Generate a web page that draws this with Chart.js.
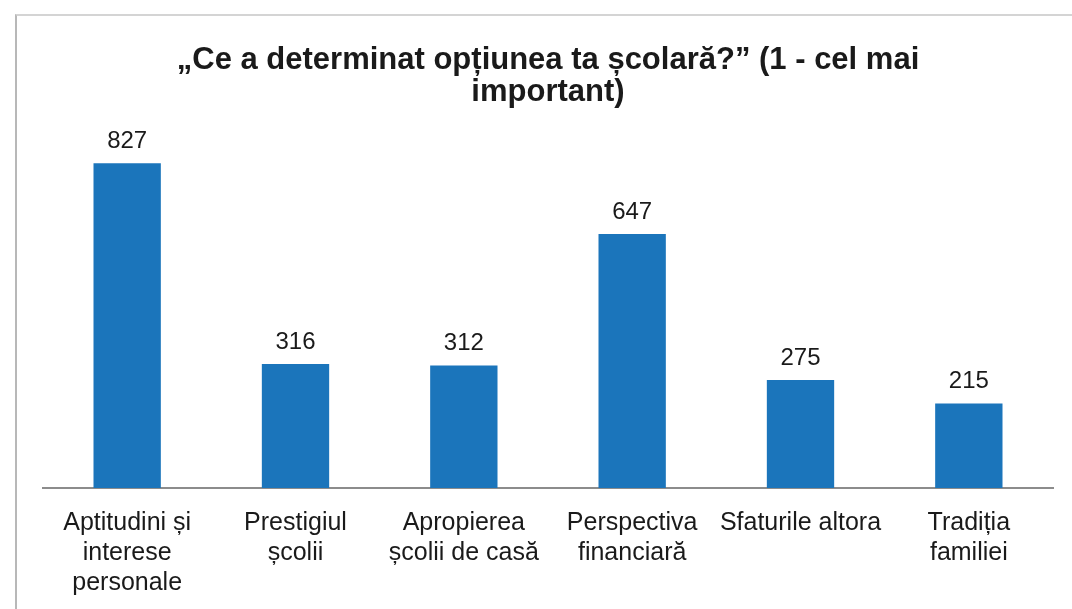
<!DOCTYPE html>
<html>
<head>
<meta charset="utf-8">
<script src="https://cdn.jsdelivr.net/npm/chart.js@4.4.0/dist/chart.umd.min.js"></script>
<style>
    html, body { margin: 0; padding: 0; background: #fff; }
    #wrap { position: relative; width: 1072px; height: 609px; }
    #frame { position: absolute; left: 15px; top: 14px; right: 0; bottom: 0; border-left: 2px solid #b8b8b8; border-top: 2px solid #d4d4d4; }
    canvas { position: absolute; left: 0; top: 0; }
</style>
</head>
<body>
<div id="wrap">
    <div id="frame"></div>
    <canvas id="chart" width="1072" height="609"></canvas>
</div>
<script>
    'use strict';

    const BAR_COLOR = '#1b75bb';

    const categories = [
        ['Aptitudini și', 'interese', 'personale'],
        ['Prestigiul', 'școlii'],
        ['Apropierea', 'școlii de casă'],
        ['Perspectiva', 'financiară'],
        ['Sfaturile altora'],
        ['Tradiția', 'familiei'],
    ];
    const values = [827, 316, 312, 647, 275, 215];
    const titleLines = ['„Ce a determinat opțiunea ta școlară?” (1 - cel mai', 'important)'];

    // value labels above each bar
    const valueLabels = {
        id: 'valueLabels',
        afterDatasetsDraw: function (chart) {
            const ctx = chart.ctx;
            const meta = chart.getDatasetMeta(0);
            ctx.save();
            ctx.font = '24px "Liberation Sans", Arial, sans-serif';
            ctx.fillStyle = '#1a1a1a';
            ctx.textAlign = 'center';
            ctx.textBaseline = 'middle';
            meta.data.forEach(function (bar, i) {
                ctx.fillText(String(values[i]), bar.x, bar.y - 22);
            });
            ctx.restore();
        },
    };

    new Chart(document.getElementById('chart'), {
        type: 'bar',
        data: {
            labels: categories,
            datasets: [{
                data: values,
                backgroundColor: BAR_COLOR,
                barPercentage: 0.4,
                categoryPercentage: 1,
            }],
        },
        options: {
            responsive: false,
            animation: false,
            layout: { padding: { left: 43, right: 19, top: 44, bottom: 0 } },
            plugins: {
                legend: { display: false },
                tooltip: { enabled: false },
                title: {
                    display: true,
                    text: titleLines,
                    color: '#1a1a1a',
                    font: { family: '"Liberation Sans", Arial, sans-serif', size: 31, weight: 'bold', lineHeight: 1.05 },
                    padding: { top: 0, bottom: 0 },
                },
            },
            scales: {
                x: {
                    grid: { display: false, drawTicks: false },
                    border: { display: true, color: '#8c8c8c', width: 2 },
                    afterFit: function (scale) {
                        scale.height -= 9;
                    },
                    ticks: {
                        color: '#1a1a1a',
                        padding: 20,
                        maxRotation: 0,
                        autoSkip: false,
                        font: { family: '"Liberation Sans", Arial, sans-serif', size: 25, lineHeight: 1.2 },
                    },
                },
                y: {
                    display: false,
                    min: 0,
                    max: 965,
                },
            },
        },
        plugins: [valueLabels],
    });
</script>
</body>
</html>
